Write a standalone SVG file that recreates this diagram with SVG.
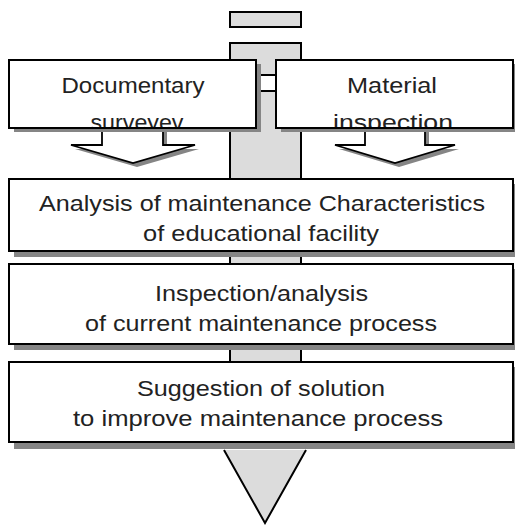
<svg xmlns="http://www.w3.org/2000/svg" width="515" height="525" viewBox="0 0 515 525">
<style>
.box{fill:#fff;stroke:#000;stroke-width:2}
.sh{fill:#858585;stroke:none}
.shaft{fill:#dcdcdc;stroke:#000;stroke-width:2}
.arr{fill:#fff;stroke:#000;stroke-width:1.8;stroke-linejoin:miter}
.t{font-family:"Liberation Sans",Arial,sans-serif;font-size:22px;fill:#222;text-anchor:middle}
</style>
<defs>
<clipPath id="clipL"><rect x="10" y="61" width="245" height="66"/></clipPath>
<clipPath id="clipR"><rect x="277" y="61" width="235" height="66"/></clipPath>
</defs>
<rect width="515" height="525" fill="#fff"/>
<g id="spine">
<rect class="shaft" x="230" y="12" width="71" height="15"/>
<rect class="shaft" x="230" y="43" width="71" height="404"/>
<polygon points="224,450 306,450 265,523" fill="#dcdcdc" stroke="none"/>
<polyline points="224,450 265,523 306,450" fill="none" stroke="#000" stroke-width="2"/>
</g>
<g id="connectors">
<rect x="256" y="75" width="21" height="16" fill="#fff" stroke="none"/>
<line x1="256" y1="75" x2="277" y2="75" stroke="#000" stroke-width="2"/>
<line x1="256" y1="91" x2="277" y2="91" stroke="#000" stroke-width="2"/>
<g id="arrowL">
<polygon class="sh" points="106,128 167,128 167,149 199,149 137,167 75,149 106,149"/>
<polygon class="arr" points="102,126 163,126 163,145 195,145 133,163 71,145 102,145"/>
</g>
<g id="arrowR">
<polygon class="sh" points="369,128 429,128 429,149 459,149 399,167 339,149 369,149"/>
<polygon class="arr" points="365,126 425,126 425,145 455,145 395,163 335,145 365,145"/>
</g>
</g>
<g id="n-doc">
<rect class="sh" x="14" y="64" width="247" height="68"/>
<rect class="box" x="9" y="60" width="247" height="68"/>
<g clip-path="url(#clipL)">
<text class="t" x="133" y="93" textLength="143" lengthAdjust="spacingAndGlyphs">Documentary</text>
<text class="t" x="137" y="130" textLength="93" lengthAdjust="spacingAndGlyphs">surveyev</text>
</g>
</g>
<g id="n-mat">
<rect class="sh" x="281" y="64" width="237" height="68"/>
<rect class="box" x="276" y="60" width="237" height="68"/>
<g clip-path="url(#clipR)">
<text class="t" x="392" y="93" textLength="90" lengthAdjust="spacingAndGlyphs">Material</text>
<text class="t" x="393" y="130" textLength="120" lengthAdjust="spacingAndGlyphs">inspection</text>
</g>
</g>
<g id="n-analysis">
<rect class="sh" x="14" y="184" width="504" height="73"/>
<rect class="box" x="9" y="179" width="504" height="72"/>
<text class="t" x="262" y="211" textLength="446" lengthAdjust="spacingAndGlyphs">Analysis of maintenance Characteristics</text>
<text class="t" x="261" y="241" textLength="236" lengthAdjust="spacingAndGlyphs">of educational facility</text>
</g>
<g id="n-inspection">
<rect class="sh" x="14" y="269" width="504" height="81"/>
<rect class="box" x="9" y="264" width="504" height="80"/>
<text class="t" x="261.5" y="301" textLength="213" lengthAdjust="spacingAndGlyphs">Inspection/analysis</text>
<text class="t" x="261" y="331" textLength="352" lengthAdjust="spacingAndGlyphs">of current maintenance process</text>
</g>
<g id="n-suggestion">
<rect class="sh" x="14" y="367" width="504" height="82"/>
<rect class="box" x="9" y="362" width="504" height="80"/>
<text class="t" x="261" y="396" textLength="248" lengthAdjust="spacingAndGlyphs">Suggestion of solution</text>
<text class="t" x="258" y="426" textLength="370" lengthAdjust="spacingAndGlyphs">to improve maintenance process</text>
</g>
</svg>
